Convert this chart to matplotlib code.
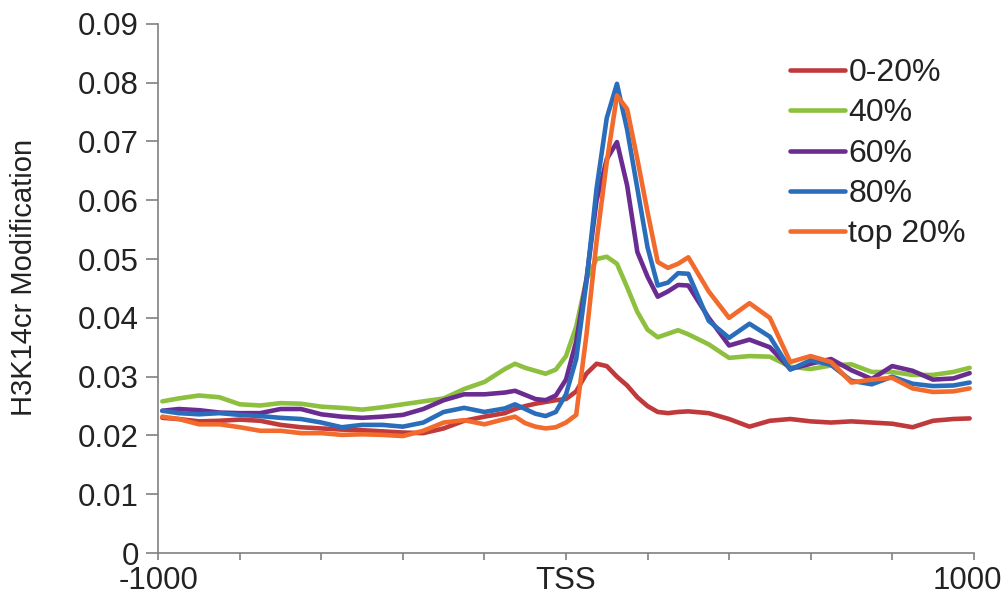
import matplotlib
matplotlib.use('Agg')
import matplotlib.pyplot as plt
import matplotlib.transforms as mtransforms

# position relative to TSS (bp)
pos = [-990, -950, -900, -850, -800, -750, -700, -650, -600, -550, -500,
       -450, -400, -350, -300, -250, -200, -150, -125, -100, -75, -50, -25,
       0, 25, 50, 75, 100, 125, 150, 175, 200, 225, 250, 275, 300,
       350, 400, 450, 500, 550, 600, 650, 700, 750, 800, 850, 900, 950, 990]

q0_20 = [0.0230, 0.0228, 0.0224, 0.0225, 0.0227, 0.0225, 0.0218, 0.0214, 0.0212, 0.0210, 0.0209,
         0.0207, 0.0205, 0.0204, 0.0212, 0.0225, 0.0232, 0.0238, 0.0245, 0.0250, 0.0254, 0.0257, 0.0260,
         0.0262, 0.0275, 0.0305, 0.0322, 0.0318, 0.0300, 0.0285, 0.0265, 0.0250, 0.0240, 0.0238, 0.0240, 0.0241,
         0.0238, 0.0228, 0.0215, 0.0225, 0.0228, 0.0224, 0.0222, 0.0224, 0.0222, 0.0220, 0.0214, 0.0225, 0.0228, 0.0229]

q40 = [0.0258, 0.0263, 0.0268, 0.0265, 0.0253, 0.0251, 0.0255, 0.0254, 0.0249, 0.0247, 0.0244,
       0.0248, 0.0253, 0.0258, 0.0263, 0.0279, 0.0291, 0.0313, 0.0322, 0.0315, 0.0310, 0.0305, 0.0312,
       0.0335, 0.0385, 0.0465, 0.0500, 0.0504, 0.0492, 0.0452, 0.0410, 0.0380, 0.0367, 0.0373, 0.0379, 0.0372,
       0.0355, 0.0332, 0.0335, 0.0334, 0.0317, 0.0313, 0.0319, 0.0321, 0.0308, 0.0308, 0.0303, 0.0303, 0.0308, 0.0315]

q60 = [0.0242, 0.0245, 0.0243, 0.0239, 0.0238, 0.0238, 0.0245, 0.0245, 0.0236, 0.0232, 0.0230,
       0.0232, 0.0235, 0.0245, 0.0260, 0.0270, 0.0270, 0.0273, 0.0276, 0.0269, 0.0262, 0.0260, 0.0268,
       0.0295, 0.0360, 0.0465, 0.0600, 0.0670, 0.0699, 0.0625, 0.0512, 0.0470, 0.0436, 0.0445, 0.0456, 0.0455,
       0.0400, 0.0353, 0.0363, 0.0350, 0.0313, 0.0322, 0.0330, 0.0311, 0.0296, 0.0318, 0.0310, 0.0295, 0.0297, 0.0306]

q80 = [0.0242, 0.0238, 0.0236, 0.0238, 0.0235, 0.0233, 0.0230, 0.0228, 0.0222, 0.0214, 0.0218,
       0.0218, 0.0215, 0.0222, 0.0240, 0.0247, 0.0240, 0.0246, 0.0253, 0.0245, 0.0237, 0.0233, 0.0240,
       0.0270, 0.0330, 0.0460, 0.0620, 0.0740, 0.0798, 0.0720, 0.0620, 0.0520, 0.0455, 0.0460, 0.0476, 0.0475,
       0.0395, 0.0366, 0.0390, 0.0368, 0.0312, 0.0328, 0.0320, 0.0293, 0.0287, 0.0300, 0.0288, 0.0284, 0.0285, 0.0290]

top20 = [0.0232, 0.0228, 0.0219, 0.0219, 0.0214, 0.0208, 0.0208, 0.0204, 0.0204, 0.0201, 0.0202,
         0.0201, 0.0199, 0.0208, 0.0222, 0.0226, 0.0219, 0.0228, 0.0232, 0.0221, 0.0215, 0.0212, 0.0214,
         0.0222, 0.0235, 0.0370, 0.0530, 0.0665, 0.0778, 0.0755, 0.0670, 0.0580, 0.0495, 0.0485, 0.0492, 0.0503,
         0.0445, 0.0400, 0.0425, 0.0400, 0.0325, 0.0335, 0.0325, 0.0290, 0.0295, 0.0298, 0.0280, 0.0274, 0.0275, 0.0280]

labels = ['0-20%', '40%', '60%', '80%', 'top 20%']
colors = ['#C0393B', '#8DC03F', '#6A2C91', '#2A6EBB', '#F26A2C']

plt.rcParams['font.family'] = ['Liberation Sans', 'DejaVu Sans']

fig = plt.figure(figsize=(10.08, 5.96), dpi=100)
ax = fig.add_axes([0.157, 0.072, 0.809, 0.888])

for series, lab, col in zip([q0_20, q40, q60, q80, top20], labels, colors):
    ax.plot(pos, series, color=col, lw=3.3, label=lab,
            solid_joinstyle='round', solid_capstyle='round')

ax.set_xlim(-1000, 1000)
ax.set_ylim(0, 0.09)
ax.set_xticks(range(-1000, 1001, 200))
ax.set_xticklabels(['-1000', '', '', '', '', 'TSS', '', '', '', '', '1000'])
ax.set_yticks([i / 100 for i in range(10)])
ax.set_yticklabels(['0'] + ['%.2f' % (i / 100) for i in range(1, 10)])

for side in ['top', 'right']:
    ax.spines[side].set_visible(False)
for side in ['left', 'bottom']:
    ax.spines[side].set_color('#808080')
    ax.spines[side].set_linewidth(1.2)

ax.tick_params(axis='y', length=9, width=1.2, color='#808080', labelsize=22.5, pad=5, labelcolor='#222222')
ax.tick_params(axis='x', length=5, width=1.2, color='#808080', labelsize=22.5, pad=4, labelcolor='#222222')

# nudge the last x label so it stays inside the figure
last = ax.get_xticklabels()[-1]
last.set_transform(last.get_transform() + mtransforms.ScaledTranslation(-6 / 100, 0, fig.dpi_scale_trans))

ax.set_ylabel('H3K14cr Modification', fontsize=21, color='#222222')
ax.yaxis.set_label_coords(-0.148, 0.52)

leg = ax.legend(loc='upper left', bbox_to_anchor=(0.775, 0.935), frameon=False,
                borderpad=0, borderaxespad=0,
                fontsize=23, handlelength=1.72, handletextpad=0.1, labelspacing=0.32)
for t in leg.get_texts():
    t.set_color('#222222')

fig.savefig('out.png', dpi=100)
